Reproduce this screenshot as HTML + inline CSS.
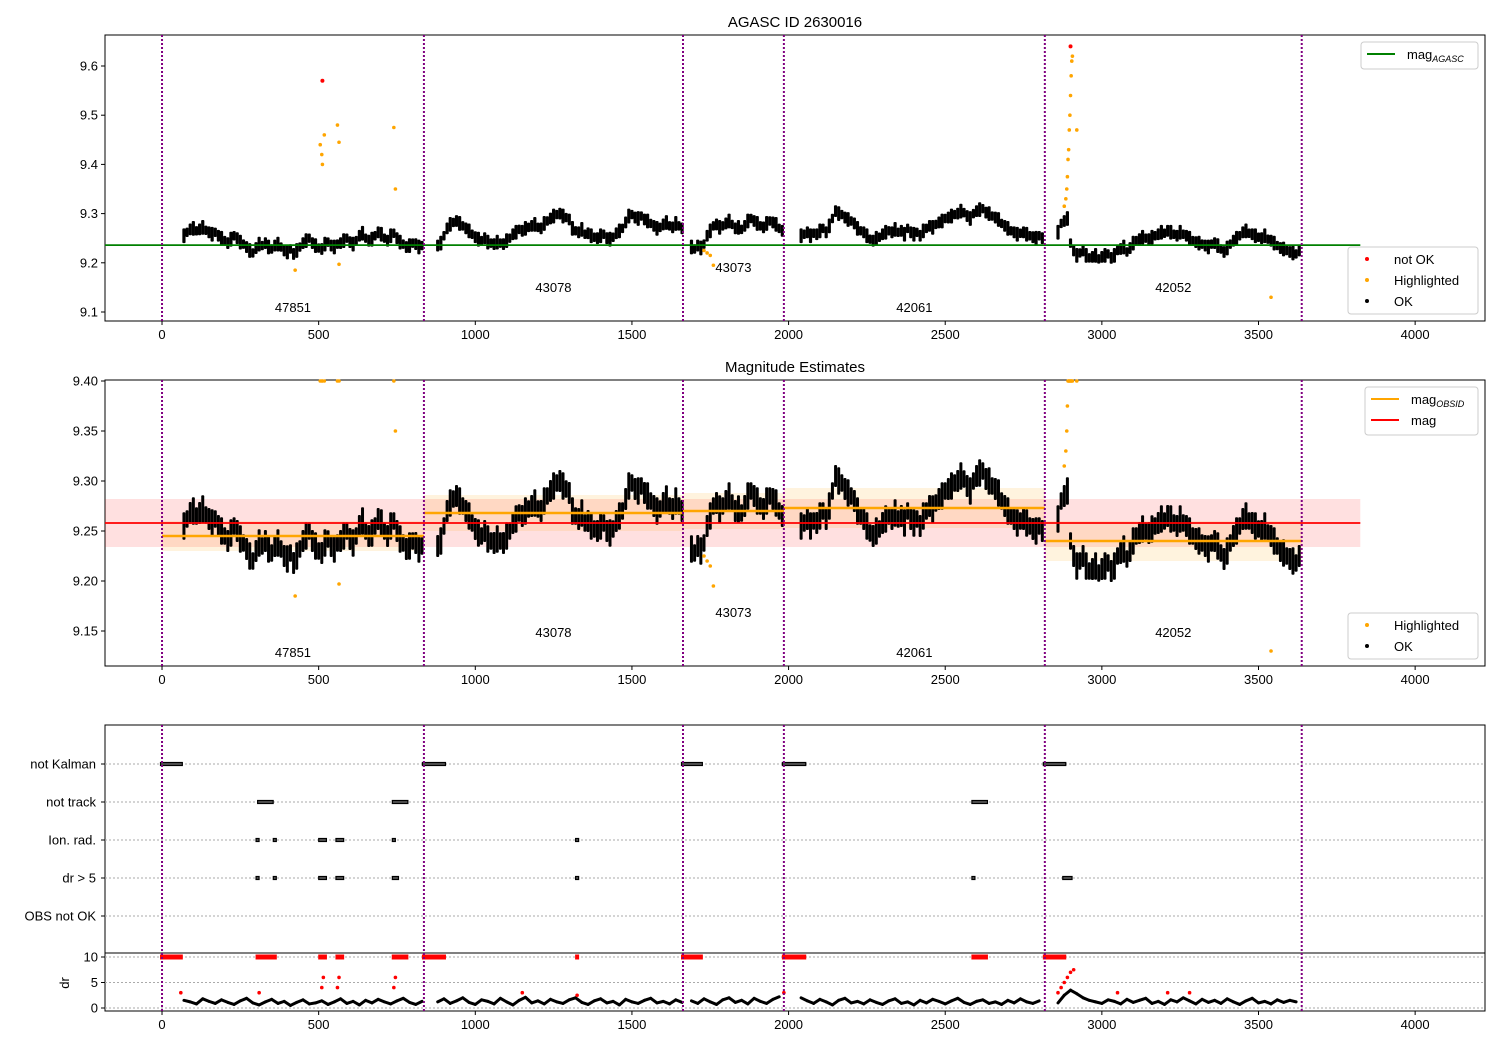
<!DOCTYPE html>
<html><head><meta charset="utf-8"><style>
body{margin:0;background:#fff;}
svg{display:block;font-family:"Liberation Sans","DejaVu Sans",sans-serif;}
</style></head><body>
<svg id="c" width="1500" height="1050" xmlns="http://www.w3.org/2000/svg"></svg>
<script>
// ---- data ----
const obsBounds = [0, 836, 1663, 1985, 2818, 3638];
const obsIds = ["47851", "43078", "43073", "42061", "42052"];
const segStarts = [70, 880, 1690, 2040, 2860];
const magSegA = [9.255,9.262,9.268,9.270,9.265,9.268,9.272,9.266,9.262,9.258,9.262,9.255,9.250,9.245,9.240,9.248,9.255,9.250,9.242,9.238,9.232,9.225,9.220,9.230,9.238,9.235,9.240,9.232,9.228,9.235,9.238,9.232,9.225,9.222,9.228,9.218,9.225,9.232,9.240,9.245,9.250,9.240,9.235,9.230,9.228,9.238,9.242,9.235,9.232,9.238,9.240,9.245,9.250,9.242,9.238,9.245,9.255,9.260,9.250,9.245,9.248,9.255,9.262,9.258,9.250,9.245,9.255,9.260,9.250,9.242,9.238,9.232,9.235,9.240,9.238,9.232,9.235];
const magSegB = [9.235,9.240,9.255,9.270,9.278,9.282,9.285,9.280,9.275,9.270,9.265,9.258,9.252,9.248,9.245,9.250,9.242,9.240,9.238,9.242,9.240,9.238,9.245,9.250,9.258,9.262,9.268,9.265,9.270,9.272,9.275,9.278,9.272,9.270,9.280,9.285,9.290,9.295,9.298,9.300,9.295,9.292,9.288,9.270,9.265,9.262,9.268,9.258,9.260,9.255,9.252,9.250,9.255,9.258,9.250,9.248,9.252,9.260,9.265,9.270,9.282,9.295,9.298,9.292,9.290,9.295,9.288,9.285,9.280,9.275,9.270,9.272,9.278,9.282,9.275,9.272,9.280,9.275,9.270];
const magSegC = [9.232,9.228,9.235,9.230,9.238,9.255,9.265,9.275,9.278,9.272,9.275,9.280,9.285,9.278,9.270,9.272,9.268,9.275,9.285,9.290,9.285,9.280,9.275,9.272,9.280,9.285,9.282,9.278,9.270,9.265];
const magSegD = [9.255,9.258,9.262,9.255,9.260,9.258,9.265,9.270,9.262,9.275,9.290,9.305,9.300,9.298,9.292,9.288,9.285,9.280,9.270,9.265,9.262,9.255,9.248,9.245,9.250,9.252,9.258,9.262,9.265,9.262,9.268,9.262,9.265,9.258,9.270,9.262,9.258,9.262,9.255,9.265,9.270,9.275,9.272,9.278,9.282,9.285,9.290,9.292,9.295,9.298,9.300,9.305,9.302,9.295,9.290,9.300,9.305,9.308,9.310,9.302,9.300,9.295,9.292,9.288,9.280,9.275,9.270,9.265,9.262,9.258,9.260,9.262,9.258,9.255,9.252,9.250,9.255,9.250];
const magSegE = [9.262,9.280,9.285,9.290,9.240,9.225,9.215,9.220,9.225,9.215,9.210,9.212,9.215,9.208,9.212,9.215,9.218,9.210,9.215,9.225,9.228,9.232,9.222,9.230,9.240,9.245,9.248,9.252,9.250,9.248,9.252,9.255,9.258,9.262,9.260,9.265,9.262,9.258,9.255,9.262,9.258,9.255,9.250,9.245,9.242,9.240,9.238,9.235,9.232,9.238,9.240,9.235,9.228,9.222,9.230,9.238,9.245,9.250,9.255,9.262,9.265,9.260,9.258,9.255,9.252,9.250,9.255,9.248,9.245,9.240,9.235,9.230,9.228,9.225,9.222,9.220,9.218,9.225];
const magSegs = [magSegA, magSegB, magSegC, magSegD, magSegE];
const hlT = [505,510,512,518,560,565,740,745,425,565,1730,1740,1750,1760,2880,2885,2888,2890,2892,2894,2896,2898,2900,2902,2904,2906,2920,3540];
const hlMag = [9.44,9.42,9.40,9.46,9.48,9.445,9.475,9.35,9.185,9.197,9.225,9.22,9.215,9.195,9.315,9.33,9.35,9.375,9.41,9.43,9.47,9.50,9.54,9.58,9.61,9.62,9.47,9.13];
const badT = [512, 2900];
const badMag = [9.57, 9.64];
const magAgasc = 9.236;
const magMean = 9.258;
const magStd = 0.024;
const obsMag = [9.245, 9.268, 9.270, 9.273, 9.240];
const obsStd = [0.015, 0.018, 0.018, 0.02, 0.02];
const flagRows = ["not Kalman", "not track", "Ion. rad.", "dr > 5", "OBS not OK"];
const flagKalman = [[0,60],[836,900],[1663,1720],[1985,2050],[2818,2880]];
const flagTrack = [[310,350],[740,780],[2590,2630]];
const flagIon = [[305,305],[360,360],[505,520],[560,575],[740,740],[1325,1325]];
const flagDr = [[305,305],[360,360],[505,520],[560,575],[740,750],[1325,1325],[2590,2590],[2880,2900]];
const flagObs = [];
const drSegA = [1.5,1.2,0.8,1.8,1.3,0.9,1.6,1.1,0.7,1.4,1.9,1.0,0.6,1.2,1.7,0.9,1.3,0.5,1.1,1.6,0.8,1.0,1.4,0.7,1.2,1.8,0.9,1.3,0.6,1.5,1.0,1.7,1.2,0.8,1.4,1.9,1.1,0.7,1.3];
const drSegB = [1.2,1.8,0.9,1.4,2.0,1.1,0.7,1.6,1.3,0.8,1.9,1.2,0.6,1.5,2.1,1.0,1.4,0.8,1.7,1.2,0.9,1.6,2.0,1.1,0.7,1.4,1.8,1.0,1.3,0.6,1.7,1.2,0.9,1.5,1.9,1.0,1.3,0.8,1.6,1.1];
const drSegC = [1.4,0.9,1.8,1.2,0.7,1.6,2.0,1.1,1.5,0.8,1.9,1.3,0.9,1.7,2.2];
const drSegD = [2.0,1.4,0.9,1.7,1.2,0.6,1.5,1.9,1.0,1.3,0.8,1.6,1.1,0.7,1.4,1.8,0.9,1.2,0.6,1.5,1.0,1.7,1.3,0.8,1.4,1.9,1.1,0.7,1.3,1.6,0.9,1.2,0.7,1.5,1.0,1.8,1.2,0.9,1.4];
const drSegE = [1.0,2.5,3.5,2.8,2.0,1.5,1.2,0.9,1.6,1.3,0.8,1.7,1.1,1.5,1.9,0.9,1.3,0.7,1.6,1.2,2.0,1.4,0.8,1.7,1.1,1.5,0.9,1.8,1.2,0.7,1.4,1.9,1.0,1.3,0.8,1.6,1.1,1.5,1.2];
const drSegs = [drSegA, drSegB, drSegC, drSegD, drSegE];
const drRedT = [60,310,510,515,560,565,740,745,1150,1325,1985,2860,2870,2880,2890,2900,2910,3050,3210,3280];
const drRedV = [3,3,4,6,4,6,4,6,3,2.5,3,3,4,5,6,7,7.5,3,3,3];
const xTicks = [0,500,1000,1500,2000,2500,3000,3500,4000];
const y1Ticks = [9.1,9.2,9.3,9.4,9.5,9.6];
const y2Ticks = [9.15,9.20,9.25,9.30,9.35,9.40];
const drTicks = [0,5,10];

// ---- helpers ----
const svg = document.getElementById('c');
const NS = 'http://www.w3.org/2000/svg';
function mk(tag, attrs, parent, text){const e=document.createElementNS(NS,tag);for(const k in attrs)e.setAttribute(k,attrs[k]);if(text!==undefined)e.textContent=text;(parent||svg).appendChild(e);return e;}
const L=105,R=1485;
const xMin=-182,xMax=4223;
const X=t=>L+(t-xMin)/(xMax-xMin)*(R-L);
function yLin(d0,d1,p0,p1){return v=>p0+(v-d0)/(d1-d0)*(p1-p0);}
const Y1=yLin(9.1,9.6,312,66);
const Y2=yLin(9.15,9.40,631,381);
const YD=yLin(0,10,1008,957);
const flagY=[764,802,840,878,916];

function pointsOf(segs){const o=[];segs.forEach((s,i)=>s.forEach((v,j)=>o.push([segStarts[i]+j*10,v])));return o;}
function drPoints(){const o=[];drSegs.forEach((s,i)=>s.forEach((v,j)=>o.push([segStarts[i]+j*20,v])));return o;}

function frame(top,bot,name){
  const r=mk('rect',{x:L,y:top,width:R-L,height:bot-top,fill:'none',stroke:'#000','stroke-width':1});
  
  const g=mk('g',{});
  xTicks.forEach(t=>{mk('line',{x1:X(t),x2:X(t),y1:bot,y2:bot+4,stroke:'#000'},g);
    mk('text',{x:X(t),y:bot+18,'font-size':13,'text-anchor':'middle'},g,String(t));});
}
function vlines(top,bot){
  const g=mk('g',{});
  obsBounds.forEach(t=>mk('line',{x1:X(t),x2:X(t),y1:top,y2:bot,stroke:'#800080','stroke-width':2,'stroke-dasharray':'2,2'},g));
}
function yTicks(ticks,Y,fmt,name){
  const g=mk('g',{});
  ticks.forEach(v=>{mk('line',{x1:L-4,x2:L,y1:Y(v),y2:Y(v),stroke:'#000'},g);
    mk('text',{x:L-7,y:Y(v)+4.5,'font-size':13,'text-anchor':'end'},g,fmt(v));});
}
function dots(pts,Y,color,r,name,clip){
  const g=mk('g',{});
  pts.forEach(([t,v])=>{let yy=Y(v);if(clip!==undefined&&yy<clip)yy=clip;mk('circle',{cx:X(t),cy:yy,r:r,fill:color},g);});
}
function band(pts,Y,name,half,w){
  const g=mk('g',{});
  pts.forEach(([t,v],i)=>{const h=half*(i%3===0?1.25:(i%3===1?0.8:1));const a=Y(v+h),b=Y(v-h);mk('rect',{x:X(t)-w/2,y:a,width:w,height:b-a,rx:1,fill:'#000'},g);});
}
function legend(x,y,w,h,items,name){
  const g=mk('g',{});
  mk('rect',{x:x,y:y,width:w,height:h,rx:3,fill:'#fff','fill-opacity':0.85,stroke:'#ccc'},g);
  items.forEach((it,i)=>{const yy=y+12+i*21;
    if(it.line)mk('line',{x1:x+6,x2:x+34,y1:yy,y2:yy,stroke:it.c,'stroke-width':2},g);
    else mk('circle',{cx:x+19,cy:yy,r:2,fill:it.c},g);
    const t=mk('text',{x:x+46,y:yy+5,'font-size':13},g,it.t);
    if(it.sub){mk('tspan',{'font-size':9,'font-style':'italic',dy:3},t,it.sub);}
  });
}
const magPts=pointsOf(magSegs);
const hlPts=hlT.map((t,i)=>[t,hlMag[i]]);
const badPts=badT.map((t,i)=>[t,badMag[i]]);

// ---- panel 1 ----
mk('text',{x:795,y:27,'font-size':15,'text-anchor':'middle',},svg,'AGASC ID 2630016');
frame(35,321,'panel-agasc');
yTicks(y1Ticks,Y1,v=>v.toFixed(1),'panel1-y-ticks');
band(magPts,Y1,'ok-points-1',0.012,3.2);
dots(hlPts,Y1,'orange',1.8,'highlighted-points-1');
dots(badPts,Y1,'red',2,'not-ok-points-1');
mk('line',{x1:L,x2:X(3825),y1:Y1(magAgasc),y2:Y1(magAgasc),stroke:'green','stroke-width':1.8,});
vlines(35,321);
const lab1=[307,287,267,307,287],lab2=[652,632,612,652,632];
obsIds.forEach((id,i)=>{const cx=(X(obsBounds[i])+X(obsBounds[i+1]))/2;
  const e=mk('text',{x:cx,y:lab1[i]+5,'font-size':13,'text-anchor':'middle'},svg,id);
  const f=mk('text',{x:cx,y:lab2[i]+5,'font-size':13,'text-anchor':'middle'},svg,id);});
legend(1361,42,117,27,[{line:1,c:'green',t:'mag',sub:'AGASC'}],'legend-agasc');
legend(1348,247,130,67,[{c:'red',t:'not OK'},{c:'orange',t:'Highlighted'},{c:'#000',t:'OK'}],'legend-points-1');

// ---- panel 2 ----
mk('text',{x:795,y:372,'font-size':15,'text-anchor':'middle',},svg,'Magnitude Estimates');
frame(380,666,'panel-estimates');
yTicks(y2Ticks,Y2,v=>v.toFixed(2),'panel2-y-ticks');
mk('rect',{x:L,y:Y2(magMean+magStd),width:X(3825)-L,height:Y2(magMean-magStd)-Y2(magMean+magStd),fill:'red','fill-opacity':0.12,});
obsMag.forEach((m,i)=>{const r=mk('rect',{x:X(obsBounds[i]),y:Y2(m+obsStd[i]),width:X(obsBounds[i+1])-X(obsBounds[i]),height:Y2(m-obsStd[i])-Y2(m+obsStd[i]),fill:'orange','fill-opacity':0.13});
  });
band(magPts,Y2,'ok-points-2',0.011,3.0);
dots(hlPts.filter(p=>p[1]>9.115),Y2,'orange',1.8,'highlighted-points-2',381);
mk('line',{x1:L,x2:X(3825),y1:Y2(magMean),y2:Y2(magMean),stroke:'red','stroke-width':1.8,});
obsMag.forEach((m,i)=>{const l=mk('line',{x1:X(obsBounds[i]),x2:X(obsBounds[i+1]),y1:Y2(m),y2:Y2(m),stroke:'orange','stroke-width':2.5});
  });
vlines(380,666);
legend(1365,387,113,48,[{line:1,c:'orange',t:'mag',sub:'OBSID'},{line:1,c:'red',t:'mag'}],'legend-estimates');
legend(1348,613,130,46,[{c:'orange',t:'Highlighted'},{c:'#000',t:'OK'}],'legend-points-2');

// ---- panel 3 ----
frame(725,1011,'panel-flags');
mk('line',{x1:L,x2:R,y1:953,y2:953,stroke:'#000',});
const gg=mk('g',{});
flagY.forEach(y=>mk('line',{x1:L,x2:R,y1:y,y2:y,stroke:'#aaa','stroke-dasharray':'2,2'},gg));
drTicks.forEach(v=>mk('line',{x1:L,x2:R,y1:YD(v),y2:YD(v),stroke:'#aaa','stroke-dasharray':'2,2'},gg));
const fl=mk('g',{});
flagRows.forEach((n,i)=>{mk('line',{x1:L-4,x2:L,y1:flagY[i],y2:flagY[i],stroke:'#000'},fl);mk('text',{x:L-9,y:flagY[i]+4.5,'font-size':13,'text-anchor':'end'},fl,n);});
yTicks(drTicks,YD,v=>String(v),'dr-y-ticks');
mk('text',{x:0,y:0,'font-size':13,'text-anchor':'middle',transform:'translate(69,983) rotate(-90)',},svg,'dr');
[flagKalman,flagTrack,flagIon,flagDr,flagObs].forEach((arr,i)=>{
  const g=mk('g',{});
  arr.forEach(([a,b])=>mk('rect',{x:X(a)-1.5,y:flagY[i]-1.5,width:X(b)-X(a)+3,height:3,fill:'#555',stroke:'#000','stroke-width':1.2},g));
});
const rg=mk('g',{});
flagKalman.concat(flagTrack,flagIon).forEach(([a,b])=>mk('rect',{x:X(a)-2,y:YD(10)-2.5,width:X(b)-X(a)+4,height:5,fill:'red'},rg));
const drg=mk('g',{});
const dp=drPoints();
dp.forEach(([t,v],i)=>{if(i+1<dp.length&&dp[i+1][0]-t===20)mk('line',{x1:X(t),y1:YD(v),x2:X(dp[i+1][0]),y2:YD(dp[i+1][1]),stroke:'#000','stroke-width':3,'stroke-linecap':'round'},drg);});
dots(drRedT.map((t,i)=>[t,drRedV[i]]),YD,'red',1.8,'dr-red-points');
vlines(725,1011);
</script>
</body></html>
